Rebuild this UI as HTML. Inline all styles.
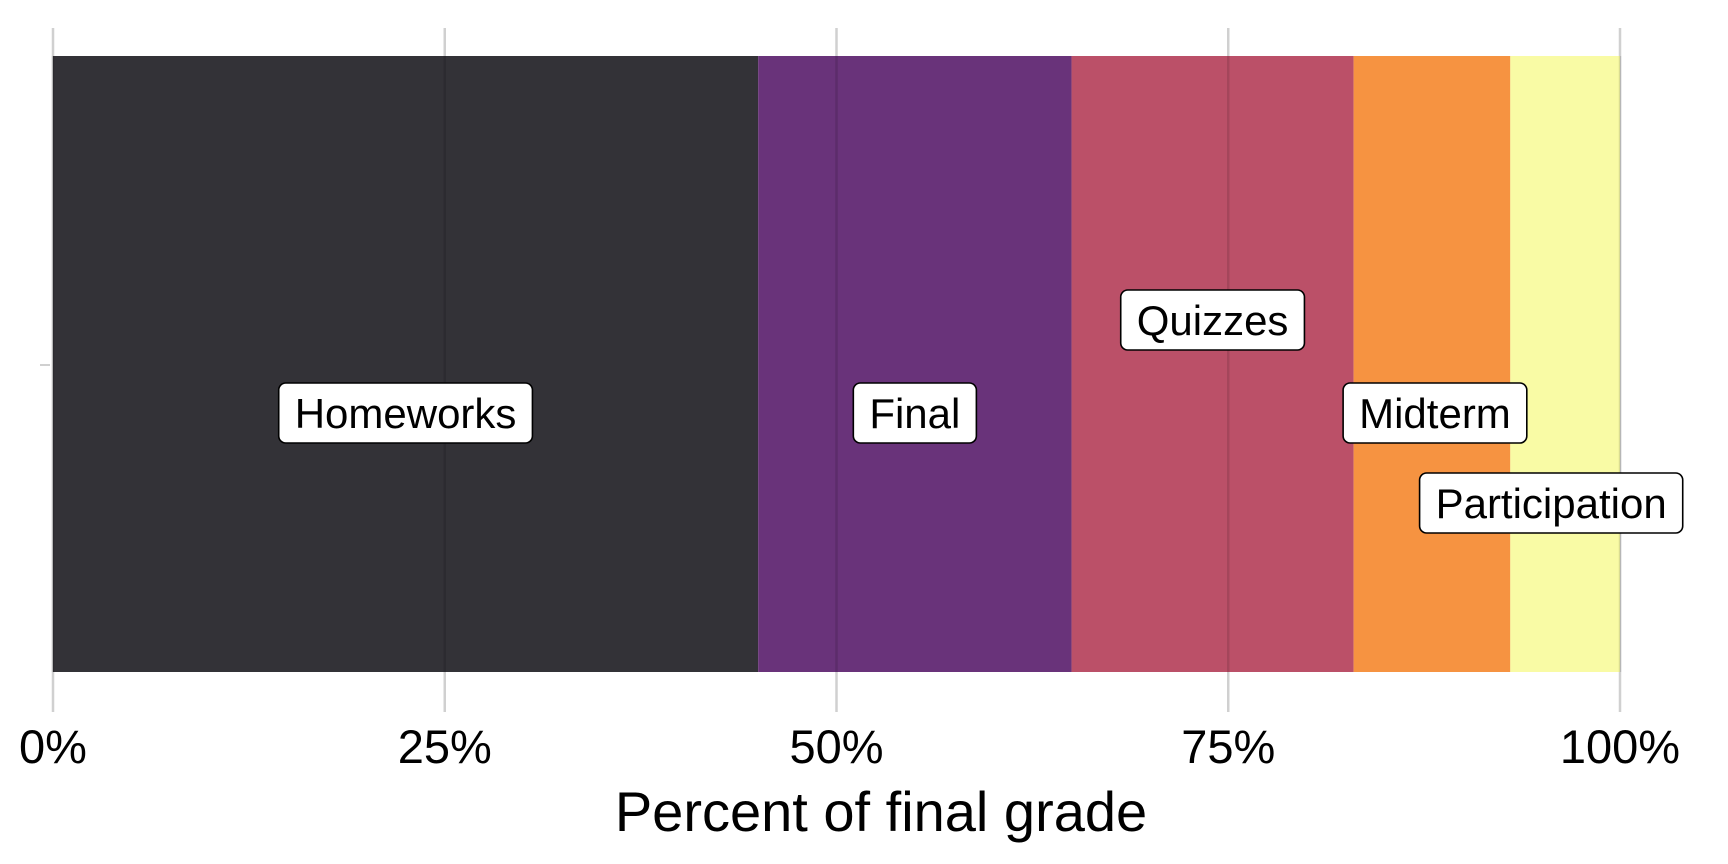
<!DOCTYPE html>
<html><head><meta charset="utf-8"><style>
html,body{margin:0;padding:0;background:#fff;}
svg{display:block;font-family:"Liberation Sans",Arial,sans-serif;}
</style></head><body>
<svg id="chart" width="1728" height="864" viewBox="0 0 1728 864">
<g id="grid"></g>
<g id="bars"></g>
<g id="overgrid"></g>
<g id="ticks"></g>
<g id="labels"></g>
<text x="881" y="831" font-size="56" text-anchor="middle" fill="#000">Percent of final grade</text>
<line x1="40" y1="365" x2="50" y2="365" stroke="#d0d0d0" stroke-width="2"/>
</svg>
<script>
const categories = ["Homeworks","Final","Quizzes","Midterm","Participation"];
const values = [45,20,18,10,7];
const colors = ["#333237","#69337a","#bb5068","#f69341","#f9fba5"];
const tickValues = [0,25,50,75,100];
const tickLabels = ["0%","25%","50%","75%","100%"];
// label placement (layout only, from ggrepel-style nudging)
const labelDx = [0,0,0,3,-14];
const labelY = [413,413,320,413,503];

const NS="http://www.w3.org/2000/svg";
const x0=53,x1=1620,barTop=56,barBot=672,gridTop=28,gridBot=712;
const xs=v=>x0+(x1-x0)*v/100;
function mk(tag,attrs,parent){const e=document.createElementNS(NS,tag);for(const k in attrs)e.setAttribute(k,attrs[k]);parent.appendChild(e);return e;}
const grid=document.getElementById('grid'),bars=document.getElementById('bars'),og=document.getElementById('overgrid'),ticks=document.getElementById('ticks'),labels=document.getElementById('labels');

tickValues.forEach((t,i)=>{
  const l=mk('line',{x1:xs(t),x2:xs(t),y1:gridTop,y2:gridBot,stroke:'#d0d0d0','stroke-width':2.5},grid);
  
  
  const o=mk('line',{x1:xs(t),x2:xs(t),y1:barTop,y2:barBot,stroke:'rgba(0,0,0,0.12)','stroke-width':2.5},og);
  
  
  const tx=mk('text',{x:xs(t),y:763,'font-size':47,'text-anchor':'middle',fill:'#000'},ticks);
  tx.textContent=tickLabels[i];
  
  
});

let cum=0;
values.forEach((v,i)=>{
  const a=cum,b=cum+v;cum=b;
  const r=mk('rect',{x:xs(a),y:barTop,width:xs(b)-xs(a),height:barBot-barTop,fill:colors[i]},bars);
  
  
  const cx=xs((a+b)/2)+labelDx[i],cy=labelY[i];
  const g=mk('g',{},labels);
  
  
  const t=mk('text',{x:cx,y:cy+15,'font-size':42,'text-anchor':'middle',fill:'#000'},g);
  t.textContent=categories[i];
  const w=t.getComputedTextLength()+32;
  const box=mk('rect',{x:cx-w/2,y:cy-30,width:w,height:60,rx:7,fill:'#fff',stroke:'#000','stroke-width':1.6},g);
  g.insertBefore(box,t);
});
</script>
</body></html>
